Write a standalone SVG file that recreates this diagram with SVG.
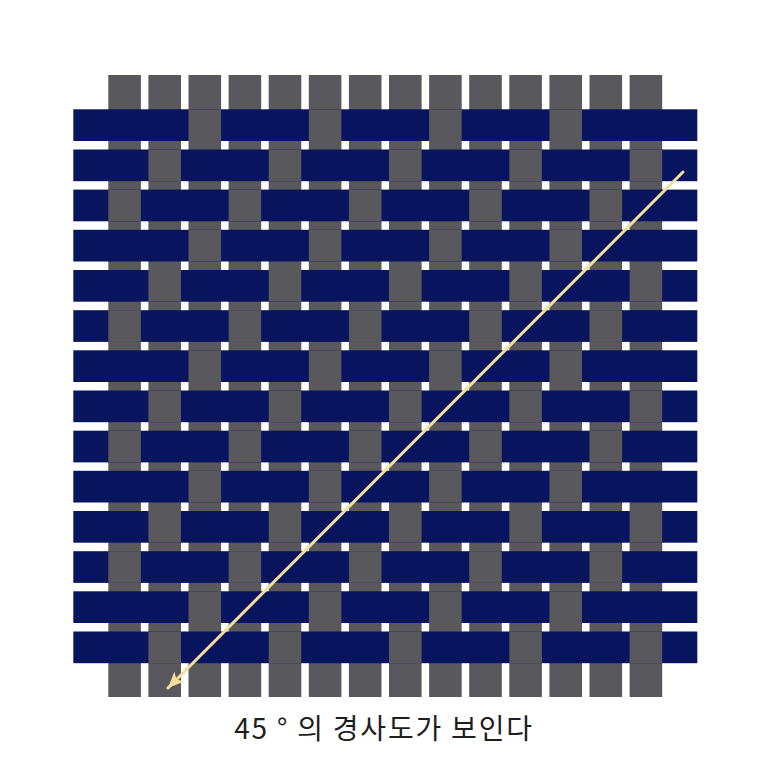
<svg xmlns="http://www.w3.org/2000/svg" xmlns:xlink="http://www.w3.org/1999/xlink" width="773" height="773" viewBox="0 0 773 773">
<style>
.warp{fill:#59585c}
.weft{fill:#08145e}
.lbl{font-family:"Noto Sans CJK KR","Noto Sans",sans-serif;font-size:28px;letter-spacing:1.8px;fill:#1e1e1e}
</style>
<defs>
<g id="rowA" class="warp"><rect x="188.5" y="0" width="32.6" height="31.7"/><rect x="308.8" y="0" width="32.6" height="31.7"/><rect x="429.1" y="0" width="32.6" height="31.7"/><rect x="549.4" y="0" width="32.6" height="31.7"/></g>
<g id="rowB" class="warp"><rect x="148.4" y="0" width="32.6" height="31.7"/><rect x="268.7" y="0" width="32.6" height="31.7"/><rect x="389.0" y="0" width="32.6" height="31.7"/><rect x="509.3" y="0" width="32.6" height="31.7"/><rect x="629.6" y="0" width="32.6" height="31.7"/></g>
<g id="rowC" class="warp"><rect x="108.3" y="0" width="32.6" height="31.7"/><rect x="228.6" y="0" width="32.6" height="31.7"/><rect x="348.9" y="0" width="32.6" height="31.7"/><rect x="469.2" y="0" width="32.6" height="31.7"/><rect x="589.5" y="0" width="32.6" height="31.7"/></g>
<marker id="ah" markerUnits="userSpaceOnUse" markerWidth="20" markerHeight="20" viewBox="0 0 20 20" refX="18" refY="10" orient="auto">
<path d="M2,3 L18,10 L2,17 L6,10 Z" fill="#f3df9c"/>
</marker>
</defs>
<rect width="773" height="773" fill="#ffffff"/>
<g id="warps" class="warp">
<rect x="108.3" y="75" width="32.6" height="622"/>
<rect x="148.4" y="75" width="32.6" height="622"/>
<rect x="188.5" y="75" width="32.6" height="622"/>
<rect x="228.6" y="75" width="32.6" height="622"/>
<rect x="268.7" y="75" width="32.6" height="622"/>
<rect x="308.8" y="75" width="32.6" height="622"/>
<rect x="348.9" y="75" width="32.6" height="622"/>
<rect x="389.0" y="75" width="32.6" height="622"/>
<rect x="429.1" y="75" width="32.6" height="622"/>
<rect x="469.2" y="75" width="32.6" height="622"/>
<rect x="509.3" y="75" width="32.6" height="622"/>
<rect x="549.4" y="75" width="32.6" height="622"/>
<rect x="589.5" y="75" width="32.6" height="622"/>
<rect x="629.6" y="75" width="32.6" height="622"/>
</g>
<g id="wefts" class="weft">
<rect x="73.3" y="109.3" width="624" height="31.7"/>
<rect x="73.3" y="149.5" width="624" height="31.7"/>
<rect x="73.3" y="189.6" width="624" height="31.7"/>
<rect x="73.3" y="229.8" width="624" height="31.7"/>
<rect x="73.3" y="270.0" width="624" height="31.7"/>
<rect x="73.3" y="310.2" width="624" height="31.7"/>
<rect x="73.3" y="350.3" width="624" height="31.7"/>
<rect x="73.3" y="390.5" width="624" height="31.7"/>
<rect x="73.3" y="430.7" width="624" height="31.7"/>
<rect x="73.3" y="470.8" width="624" height="31.7"/>
<rect x="73.3" y="511.0" width="624" height="31.7"/>
<rect x="73.3" y="551.2" width="624" height="31.7"/>
<rect x="73.3" y="591.3" width="624" height="31.7"/>
<rect x="73.3" y="631.5" width="624" height="31.7"/>
</g>
<g id="floats">
<use xlink:href="#rowA" y="109.3"/>
<use xlink:href="#rowB" y="149.5"/>
<use xlink:href="#rowC" y="189.6"/>
<use xlink:href="#rowA" y="229.8"/>
<use xlink:href="#rowB" y="270.0"/>
<use xlink:href="#rowC" y="310.2"/>
<use xlink:href="#rowA" y="350.3"/>
<use xlink:href="#rowB" y="390.5"/>
<use xlink:href="#rowC" y="430.7"/>
<use xlink:href="#rowA" y="470.8"/>
<use xlink:href="#rowB" y="511.0"/>
<use xlink:href="#rowC" y="551.2"/>
<use xlink:href="#rowA" y="591.3"/>
<use xlink:href="#rowB" y="631.5"/>
</g>
<g id="connectors">
<line x1="683" y1="172" x2="168" y2="688" stroke="#f3df9c" stroke-width="3" stroke-linecap="round" marker-end="url(#ah)"/>
</g>
<g id="caption">
<text class="lbl" x="384" y="739" text-anchor="middle">45 ° 의 경사도가 보인다</text>
</g>
</svg>
